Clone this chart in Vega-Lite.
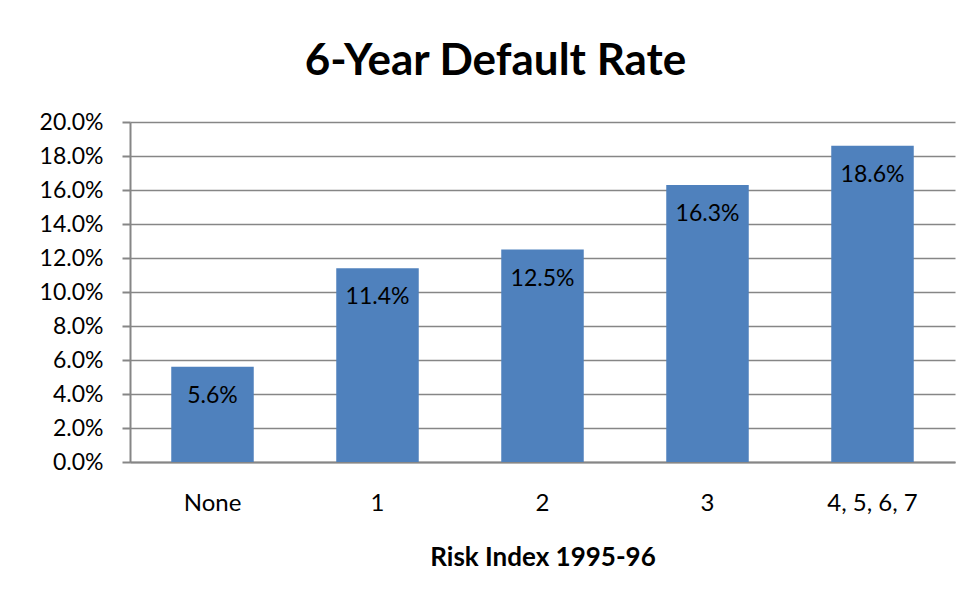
{
  "$schema": "https://vega.github.io/schema/vega-lite/v6.json",
  "autosize": "none",
  "width": 825,
  "height": 340,
  "padding": {"left": 130, "top": 122, "right": 17, "bottom": 141},
  "background": "white",
  "config": {
    "font": "Lato",
    "view": {"stroke": null},
    "axis": {"labelFont": "Lato", "titleFont": "Lato", "labelColor": "black", "titleColor": "black"}
  },
  "title": {
    "text": "6-Year Default Rate",
    "font": "Lato",
    "fontSize": 44,
    "fontWeight": "bold",
    "color": "black",
    "anchor": "middle",
    "dx": -47,
    "offset": 27
  },
  "data": {
    "values": [
      {"risk": "None", "rate": 0.056},
      {"risk": "1", "rate": 0.114},
      {"risk": "2", "rate": 0.125},
      {"risk": "3", "rate": 0.163},
      {"risk": "4, 5, 6, 7", "rate": 0.186}
    ]
  },
  "encoding": {
    "x": {
      "field": "risk",
      "type": "nominal",
      "sort": null,
      "title": "Risk Index 1995-96",
      "scale": {"paddingInner": 0.5, "paddingOuter": 0.25},
      "axis": {
        "labelAngle": 0,
        "labelFontSize": 24,
        "labelPadding": 29,
        "ticks": false,
        "domainColor": "#868686",
        "domainWidth": 2,
        "titleFontSize": 26,
        "titleFontWeight": "bold",
        "titlePadding": 29
      }
    },
    "y": {
      "field": "rate",
      "type": "quantitative",
      "title": null,
      "scale": {"domain": [0, 0.2]},
      "axis": {
        "format": ".1%",
        "values": [0, 0.02, 0.04, 0.06, 0.08, 0.1, 0.12, 0.14, 0.16, 0.18, 0.2],
        "labelFontSize": 23,
        "labelPadding": 19,
        "tickSize": 8,
        "tickColor": "#868686",
        "tickWidth": 2,
        "domainColor": "#868686",
        "domainWidth": 2,
        "gridColor": "#868686",
        "gridWidth": 1.5
      }
    }
  },
  "layer": [
    {"mark": {"type": "bar", "color": "#4F81BD"}},
    {
      "mark": {"type": "text", "baseline": "middle", "dy": 29, "fontSize": 23, "font": "Lato", "color": "black"},
      "encoding": {"text": {"field": "rate", "type": "quantitative", "format": ".1%"}}
    }
  ]
}
